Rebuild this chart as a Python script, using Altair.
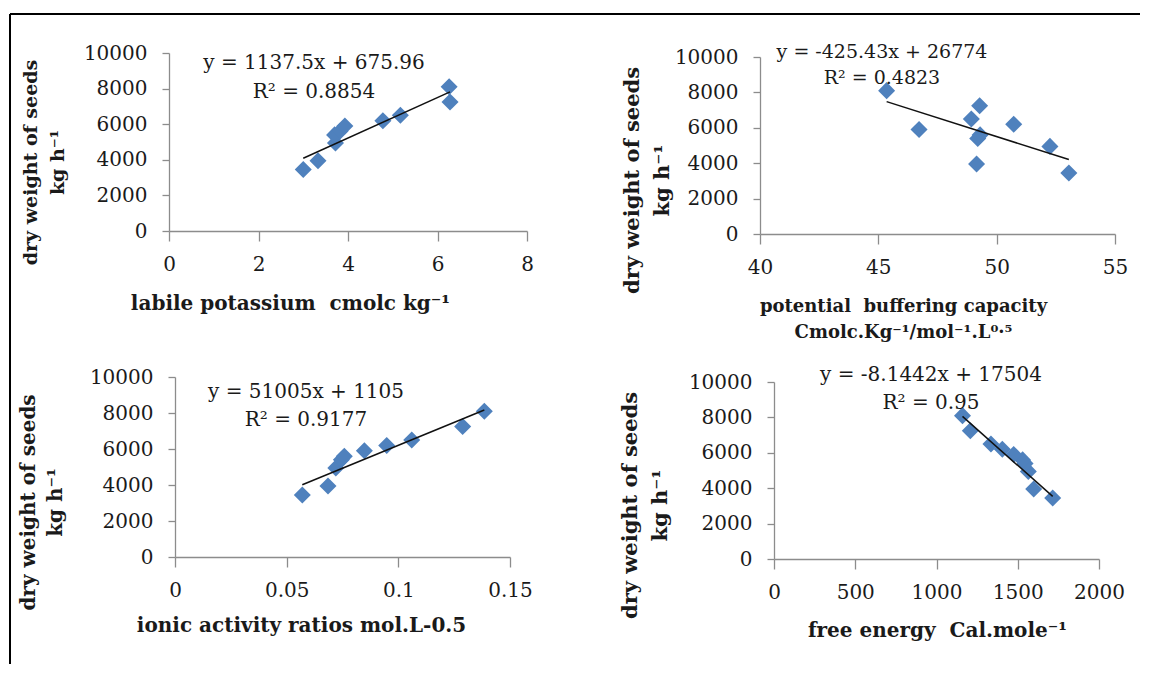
import altair as alt
import pandas as pd

# ---- data ----
seed_weight = [3450, 3950, 4950, 5400, 5600, 5900, 6200, 6500, 7250, 8100]
labile_potassium = [3.00, 3.33, 3.72, 3.70, 3.82, 3.93, 4.78, 5.17, 6.28, 6.26]
buffering_capacity = [53.05, 49.15, 52.25, 49.20, 49.30, 46.72, 50.72, 48.93, 49.28, 45.35]
activity_ratio = [0.0570, 0.0685, 0.0720, 0.0745, 0.0758, 0.0848, 0.0948, 0.1060, 0.1288, 0.1385]
free_energy = [1715, 1598, 1565, 1545, 1530, 1475, 1405, 1335, 1208, 1160]

slopes = [1137.5, -425.43, 51005, -8.1442]
intercepts = [675.96, 26774, 1105, 17504]
equations = ["y = 1137.5x + 675.96", "y = -425.43x + 26774", "y = 51005x + 1105", "y = -8.1442x + 17504"]
r_squared = ["R² = 0.8854", "R² = 0.4823", "R² = 0.9177", "R² = 0.95"]

NB = "\u00a0"
x_titles = [
    "labile potassium" + NB + " cmolc kg⁻¹",
    ["potential" + NB + " buffering capacity", "Cmolc.Kg⁻¹/mol⁻¹.L⁰·⁵"],
    "ionic activity ratios mol.L-0.5",
    "free energy" + NB + " Cal.mole⁻¹",
]
y_title = ["dry weight of seeds", "kg h⁻¹"]
y_ticks = [0, 2000, 4000, 6000, 8000, 10000]
x_ticks = [[0, 2, 4, 6, 8], [40, 45, 50, 55], [0, 0.05, 0.1, 0.15], [0, 500, 1000, 1500, 2000]]
x_domains = [[0, 8], [40, 55], [0, 0.15], [0, 2000]]

FONT = "DejaVu Serif"
BLUE = "#4F81BD"
TXT = "#1a1a1a"


def panel(i, xv, w, h, xt_pos, yt_pos, yt_lh, eq_pos, eq_size, xt_size, yt_size, fmt, extra=None):
    df = pd.DataFrame({"x": xv, "y": seed_weight})
    xmin, xmax = min(xv), max(xv)
    trend = pd.DataFrame({
        "x": [xmin, xmax],
        "y": [slopes[i] * xmin + intercepts[i], slopes[i] * xmax + intercepts[i]],
    })
    xenc = alt.X(
        "x:Q",
        scale=alt.Scale(domain=x_domains[i], nice=False, zero=False),
        axis=alt.Axis(values=x_ticks[i], format=fmt, title=x_titles[i],
                      titleX=xt_pos[0], titleY=xt_pos[1], titleAngle=0,
                      titleAlign="center", titleBaseline="middle",
                      titleFontSize=xt_size, titleLineHeight=26),
    )
    yenc = alt.Y(
        "y:Q",
        scale=alt.Scale(domain=[0, 10000], nice=False),
        axis=alt.Axis(values=y_ticks, format="d", title=y_title,
                      titleX=yt_pos[0], titleY=yt_pos[1], titleAngle=270,
                      titleAlign="center", titleBaseline="middle",
                      titleFontSize=yt_size, titleLineHeight=yt_lh),
    )
    pts = alt.Chart(df).mark_point(shape="diamond", filled=True, size=290,
                                   color=BLUE, opacity=1).encode(x=xenc, y=yenc)
    line = alt.Chart(trend).mark_line(color="#111", strokeWidth=1.5).encode(x=xenc, y=yenc)
    eq1 = alt.Chart(pd.DataFrame({"t": [equations[i]]})).mark_text(
        font=FONT, fontSize=eq_size, color=TXT, align="center", baseline="middle"
    ).encode(text="t:N", x=alt.value(eq_pos[0]), y=alt.value(eq_pos[1]))
    eq2 = alt.Chart(pd.DataFrame({"t": [r_squared[i]]})).mark_text(
        font=FONT, fontSize=eq_size, color=TXT, align="center", baseline="middle"
    ).encode(text="t:N", x=alt.value(eq_pos[0]), y=alt.value(eq_pos[2]))
    layers = [pts, line, eq1, eq2]
    if extra is not None:
        layers += extra
    return alt.layer(*layers).properties(width=w, height=h)


def spacer():
    return alt.Chart(pd.DataFrame({"k": [0]})).mark_point(opacity=0).encode(
        x=alt.value(0), y=alt.value(0)).properties(width=1, height=1)


# outer frame (left and top rules of the figure box)
frame_df = pd.DataFrame({"k": [0]})
frame_left = alt.Chart(frame_df).mark_rule(color="black", strokeWidth=2).encode(
    x=alt.value(-159), x2=alt.value(-159), y=alt.value(-39), y2=alt.value(611))
frame_top = alt.Chart(frame_df).mark_rule(color="black", strokeWidth=2).encode(
    x=alt.value(-159), x2=alt.value(971), y=alt.value(-39), y2=alt.value(-39))

p1 = panel(0, labile_potassium, 358, 178, (121, 72), (-139, 109), 27, (145, 10, 39), 20, 20, 19, "d",
           extra=[frame_left, frame_top])
p2 = panel(1, buffering_capacity, 355, 177, (143, 72), (-128, 123), 30, (122, -5, 21), 19, 18, 21, "d")
p3 = panel(2, activity_ratio, 335, 180, (126, 68), (-147, 125), 27, (131, 15, 43), 20, 20, 20, ".2~f")
p4 = panel(3, free_energy, 325, 177, (163, 71), (-144, 123), 30, (157, -7, 21), 20, 20, 21, "d")

row1 = alt.hconcat(p1, alt.vconcat(spacer(), p2, spacing=3, bounds="flush"),
                   spacing=233, bounds="flush")
row2 = alt.hconcat(
    spacer(),
    alt.hconcat(p3, alt.vconcat(spacer(), p4, spacing=4, bounds="flush"),
                spacing=264, bounds="flush"),
    spacing=5, bounds="flush")

chart = alt.vconcat(row1, row2, spacing=324, bounds="flush").properties(
    padding={"left": 1, "top": 5, "right": 0, "bottom": 0},
    background="white",
).configure_view(stroke=None).configure_axis(
    domainColor="#8c8c8c", tickColor="#8c8c8c", domainWidth=1.3, tickWidth=1.3,
    grid=False, labelFont=FONT, labelFontSize=20, labelColor=TXT, labelFlush=False,
    titleFont=FONT, titleFontWeight="bold", titleColor=TXT,
).configure_axisX(tickSize=10, labelPadding=13).configure_axisY(tickSize=7, labelPadding=15)

chart.save("out.html", embed_options={"renderer": "svg", "actions": False})
